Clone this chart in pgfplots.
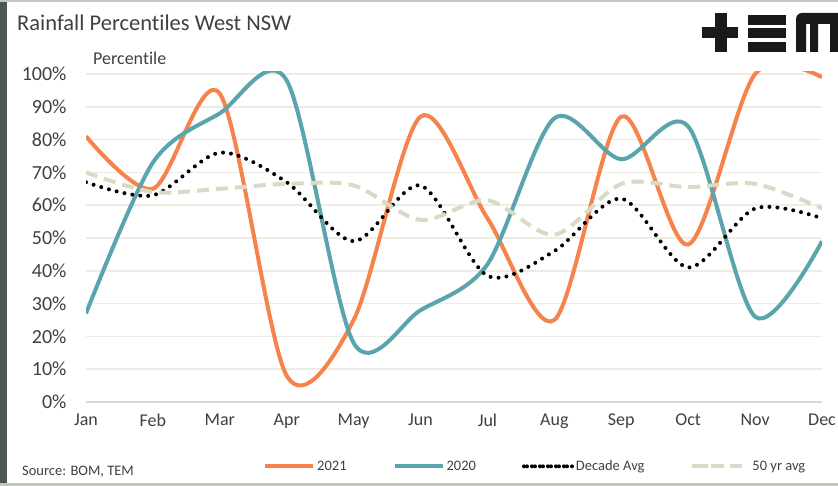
\documentclass[border=0pt]{standalone}
\usepackage{fontspec}
\setmainfont{Carlito}[Ligatures=NoCommon]
\usepackage{pgfplots}
\pgfplotsset{compat=1.18}
\definecolor{c2021}{HTML}{F6824C}
\definecolor{c2020}{HTML}{5AA4AD}
\definecolor{cfifty}{HTML}{D8DAC5}
\definecolor{gridc}{HTML}{EEEDE3}
\definecolor{axisc}{HTML}{D9D9D9}
\definecolor{txt}{HTML}{404040}
\definecolor{framec}{HTML}{4F5756}
\definecolor{edgec}{HTML}{C4C8BC}

\begin{document}
\begin{tikzpicture}[x=1pt,y=1pt]
\useasboundingbox (0,0) rectangle (838,486);
\fill[white] (0,0) rectangle (838,486);
\fill[framec] (0,0) rectangle (7,486);
\fill[edgec] (0,484) rectangle (838,486);
\fill[edgec] (0,0) rectangle (838,3);
\node[anchor=base west, inner sep=0, text=txt, font=\fontsize{22.5}{24}\selectfont] at (17,455) {Rainfall Percentiles West NSW};
\node[anchor=base west, inner sep=0, text=txt, font=\fontsize{18}{20}\selectfont] at (93,421) {Percentile};
\node[anchor=base west, inner sep=0, text=txt, font=\fontsize{14.5}{16}\selectfont] at (22,10) {Source: BOM, TEM};
% logo
\fill[black!90] (702,448) rectangle (738,459);
\fill[black!90] (715,434) rectangle (727,473);
\fill[black!90] (748,461) rectangle (786,471);
\fill[black!90] (748,448) rectangle (786,458);
\fill[black!90] (748,434) rectangle (786,444);
\fill[black!90] (796,434) -- (796,466) [rounded corners=6pt] -- (796,473) [sharp corners] -- (838,473) -- (838,434) -- (830,434) -- (830,462) -- (818,462) -- (818,434) -- (810,434) -- (810,462) -- (806,462) -- (806,434) -- cycle;
\begin{axis}[
    at={(86pt,84pt)}, anchor=south west,
    scale only axis, width=736pt, height=330pt,
    xmin=0, xmax=11, ymin=0, ymax=100.6,
    xtick={0,...,11},
    xticklabels={Jan,Feb,Mar,Apr,May,Jun,Jul,Aug,Sep,Oct,Nov,Dec},
    ytick={0,10,...,100},
    yticklabels={0\%,10\%,20\%,30\%,40\%,50\%,60\%,70\%,80\%,90\%,100\%},
    axis x line*=bottom, axis y line*=left,
    x axis line style={draw=axisc, line width=1.5pt},
    y axis line style={draw=none},
    tick style={draw=none},
    ymajorgrids, grid style={draw=gridc, line width=1.5pt},
    x tick label style={text=txt, font=\fontsize{18}{20}\selectfont, yshift=-8pt},
    y tick label style={text=txt, font=\fontsize{20}{22}\selectfont, xshift=-16pt},
    legend style={at={(0.2405,-0.195)}, anchor=west, draw=none, fill=none,
        legend columns=4, font=\fontsize{14.5}{16}\selectfont, text=txt,
        inner sep=0pt,
        /tikz/every even column/.append style={column sep=44pt}},
    legend image code/.code={\draw[#1] (0pt,0pt) -- (48pt,0pt);},
    legend cell align=left,
]
\addplot[c2021, line width=4pt, smooth, tension=0.5] coordinates {
(0,81) (1,65) (2,94) (3,8) (4,25) (5,87) (6,56) (7,25) (8,87) (9,48) (10,100) (11,99)};
\addplot[c2020, line width=4pt, smooth, tension=0.5] coordinates {
(0,27) (1,73) (2,88) (3,98) (4,18) (5,28) (6,42) (7,86.5) (8,74) (9,84) (10,26) (11,49)};
\addplot[black, line width=4pt, line cap=round, dash pattern=on 0pt off 8pt, smooth, tension=0.5,
    legend image code/.code={\draw[black, line width=4pt, line cap=round, dash pattern=on 0pt off 8pt] (3pt,0pt) -- (43pt,0pt);\path (0pt,0pt) -- (48pt,0pt);}] coordinates {
(0,67) (1,63) (2,76) (3,67) (4,49) (5,66) (6,38.5) (7,46) (8,62) (9,41) (10,59) (11,56)};
\addplot[cfifty, line width=4pt, dash pattern=on 12pt off 7pt, smooth, tension=0.5,
    legend image code/.code={\path (0pt,0pt) -- (56pt,0pt);\draw[cfifty, line width=4pt, dash pattern=on 10pt off 6pt] (6pt,0pt) -- (48pt,0pt);}] coordinates {
(0,70) (1,64) (2,65) (3,66.5) (4,66) (5,55.5) (6,61.5) (7,51) (8,66.5) (9,65.5) (10,66.5) (11,59)};
\legend{2021, 2020, Decade Avg, 50 yr avg}
\end{axis}
\end{tikzpicture}
\end{document}
